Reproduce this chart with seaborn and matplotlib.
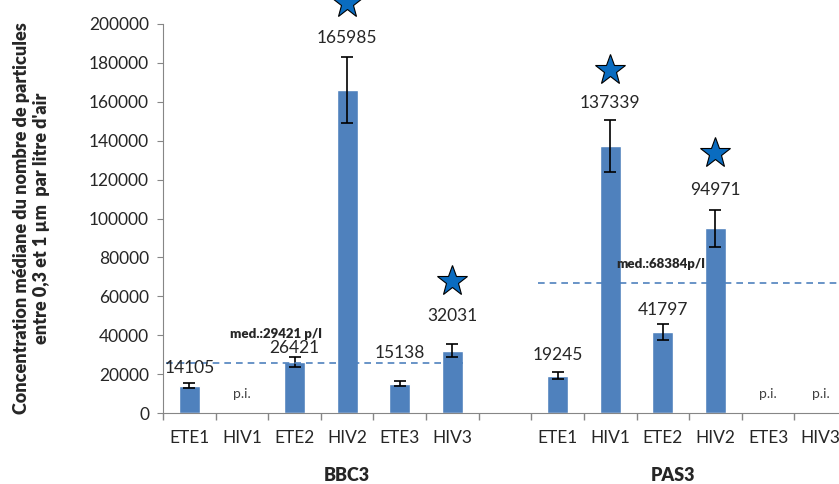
import numpy as np
import pandas as pd
import seaborn as sns
import matplotlib.pyplot as plt

# data
slots = ['B_ETE1', 'B_HIV1', 'B_ETE2', 'B_HIV2', 'B_ETE3', 'B_HIV3', 'gap',
         'P_ETE1', 'P_HIV1', 'P_ETE2', 'P_HIV2', 'P_ETE3', 'P_HIV3']
tick_labels = ['ETE1', 'HIV1', 'ETE2', 'HIV2', 'ETE3', 'HIV3', '',
               'ETE1', 'HIV1', 'ETE2', 'HIV2', 'ETE3', 'HIV3']
values = [14105, np.nan, 26421, 165985, 15138, 32031, np.nan,
          19245, 137339, 41797, 94971, np.nan, np.nan]
errors = [1500, np.nan, 2600, 17000, 1500, 3300, np.nan,
          1800, 13500, 4200, 9500, np.nan, np.nan]
pi_slots = ['B_HIV1', 'P_ETE3', 'P_HIV3']
star_slots = ['B_HIV2', 'B_HIV3', 'P_HIV1', 'P_HIV2']
star_values = [211000, 67900, 176500, 133800]
medians = [25600, 67000]
median_texts = ['med.:29421 p/l', 'med.:68384p/l']
groups = ['BBC3', 'PAS3']

# lift of each value label above its error bar (points), hand placed in the original
label_pad = [5, 0, 0.5, 8, 14, 14.5, 0, 6.5, 6.3, 4, 8.6, 0, 0]

sns.set_style('white')
plt.rcParams['font.family'] = ['Lato', 'DejaVu Sans']

df = pd.DataFrame({'slot': slots, 'value': values})
df = df.dropna()

fig = plt.figure(figsize=(8.39, 4.84), dpi=100)
ax = fig.add_axes([163 / 839, 71 / 484, 684 / 839, 389 / 484])

sns.barplot(data=df, x='slot', y='value', order=slots, color='#4F81BD',
            saturation=1, width=0.4, ax=ax)
ax.set_xlim(-0.5, 12.5)
ax.set_ylim(0, 200000)

pos = np.arange(len(slots))
vals = np.array(values, dtype=float)
errs = np.array(errors, dtype=float)
ok = ~np.isnan(vals)
ax.errorbar(pos[ok], vals[ok], yerr=errs[ok], fmt='none', ecolor='black',
            elinewidth=1.2, capsize=4, capthick=1.2)

for i in pos[ok]:
    ax.annotate(f'{int(vals[i])}', (i, vals[i] + errs[i]), xytext=(0, label_pad[i]),
                textcoords='offset points', ha='center', va='bottom', fontsize=12.5)

for s in pi_slots:
    ax.text(slots.index(s), 10000, 'p.i.', ha='center', va='center', fontsize=10, color='#404040')

sx = [slots.index(s) for s in star_slots]
ax.plot(sx, star_values, linestyle='none', marker='*', markersize=23,
        markerfacecolor='#0A6CC0', markeredgecolor='black', markeredgewidth=0.8, clip_on=False)

ax.plot([-0.44, 5.2], [medians[0]] * 2, color='#4F81BD', lw=1.2, dashes=(4, 3))
ax.plot([6.63, 12.5], [medians[1]] * 2, color='#4F81BD', lw=1.2, dashes=(4, 3))
ax.text(1.65, 40700, median_texts[0], ha='center', va='center', fontsize=9.5, fontweight='heavy')
ax.text(8.96, 76700, median_texts[1], ha='center', va='center', fontsize=9.5, fontweight='heavy')

# ticks at slot borders, labels at centres
ax.set_xticks(pos)
ax.set_xticklabels(tick_labels, fontsize=12.5)
ax.tick_params(axis='x', which='major', length=0, pad=12)
ax.set_xticks(np.arange(-0.5, 12.6, 1), minor=True)
ax.tick_params(axis='x', which='minor', length=5, color='#868686', width=1, bottom=True)
ax.set_yticks(np.arange(0, 200001, 20000))
ax.tick_params(axis='y', length=4, color='#868686', labelsize=12.5, left=True, pad=6)

ax.set_xlabel('')
ax.set_ylabel("Concentration médiane du nombre de particules\nentre 0,3 et 1 µm  par litre d'air",
              fontsize=13, fontweight='heavy', labelpad=28, linespacing=1.25)

ax.text(3.0, -0.16, groups[0], transform=ax.get_xaxis_transform(), ha='center', va='center',
        fontsize=13, fontweight='heavy')
ax.text(9.2, -0.16, groups[1], transform=ax.get_xaxis_transform(), ha='center', va='center',
        fontsize=13, fontweight='heavy')

for side in ['top', 'right']:
    ax.spines[side].set_visible(False)
for side in ['left', 'bottom']:
    ax.spines[side].set_color('#868686')

fig.savefig('out.png', dpi=100)
